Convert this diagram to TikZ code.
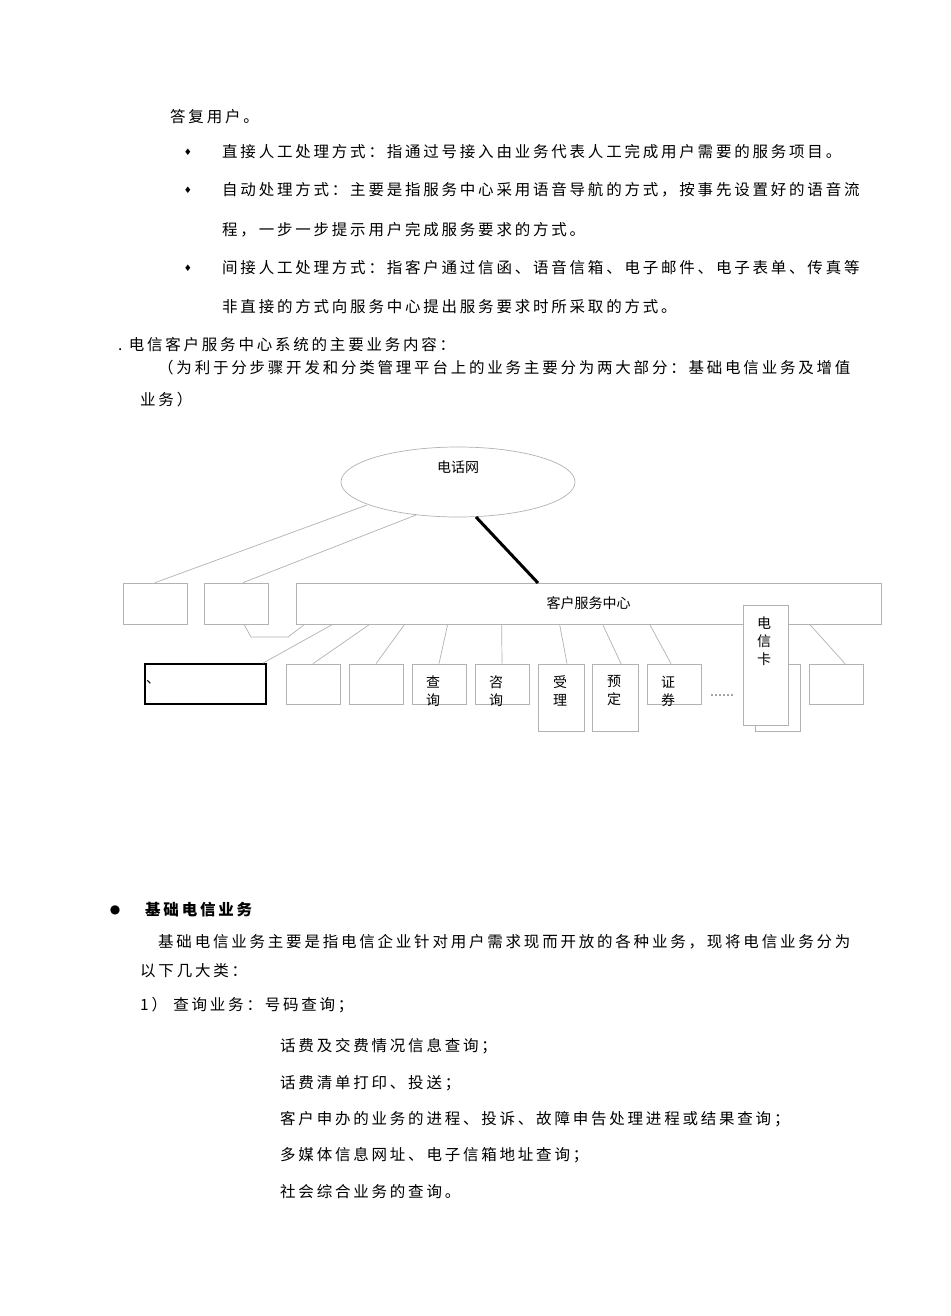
\documentclass[tikz,border=0pt]{standalone}
\usepackage{fontspec}
\usetikzlibrary{shapes.geometric}
\setmainfont{Liberation Serif}
\newfontfamily\cjk[LetterSpace=18]{Noto Sans CJK SC}
\newfontfamily\cjkd{Noto Sans CJK SC}
\newfontfamily\sym{DejaVu Sans}
\begin{document}
\begin{tikzpicture}[x=1pt,y=-1pt,
  txt/.style={anchor=west,inner sep=0pt,font=\fontsize{15.5}{18}\selectfont\cjk},
  gl/.style={draw=black!30,line width=0.7pt},
  bx/.style={draw=black!30,line width=0.7pt,fill=white,inner sep=0pt,font=\fontsize{14}{16}\selectfont\cjkd},
  bul/.style={anchor=center,inner sep=0pt,font=\fontsize{9}{10}\selectfont\sym}]
\useasboundingbox (0,0) rectangle (950,1316);
\fill[white] (0,0) rectangle (950,1316);
% top text
\node[txt] (t0) at (170,117) {答复用户。};
\node[bul] (b1) at (188,152) {♦};
\node[txt] (t1) at (222,152) {直接人工处理方式：指通过号接入由业务代表人工完成用户需要的服务项目。};
\node[bul] (b2) at (188,190) {♦};
\node[txt] (t2) at (222,190) {自动处理方式：主要是指服务中心采用语音导航的方式，按事先设置好的语音流};
\node[txt] (t3) at (222,230) {程，一步一步提示用户完成服务要求的方式。};
\node[bul] (b3) at (188,268) {♦};
\node[txt] (t4) at (222,268) {间接人工处理方式：指客户通过信函、语音信箱、电子邮件、电子表单、传真等};
\node[txt] (t5) at (222,307) {非直接的方式向服务中心提出服务要求时所采取的方式。};
\node[txt] (t6) at (118,345) {.\ 电信客户服务中心系统的主要业务内容：};
\node[txt] (t7) at (158,368) {（为利于分步骤开发和分类管理平台上的业务主要分为两大部分：基础电信业务及增值};
\node[txt] (t8) at (140,400) {业务）};
% diagram
\node[draw=black!30,line width=0.7pt,ellipse,minimum width=234pt,minimum height=70pt,inner sep=0pt] (net) at (458,482) {};
\node[inner sep=0pt,font=\fontsize{14}{16}\selectfont\cjkd] (netl) at (458,467) {电话网};
\node[bx,minimum width=64pt,minimum height=41pt] (A) at (155,603.5) {};
\node[bx,minimum width=64pt,minimum height=41pt] (B) at (236,603.5) {};
\node[bx,minimum width=585pt,minimum height=41pt] (C) at (588.5,603.5) {客户服务中心};
\coordinate (e1) at (367,505); \coordinate (e2) at (416,515);
\draw[gl] (e1) -- (A.north); \draw[gl] (e2) -- ([xshift=7pt]B.north);
\coordinate (e3) at (476,517); \coordinate (c3) at (538,583);
\draw[line width=3pt] (e3) -- (c3);
% bottom row
\node[draw=black,line width=1.5pt,minimum width=121pt,minimum height=40pt,inner sep=0pt] (D1) at (205.5,684) {};
\node[inner sep=0pt,font=\fontsize{14}{16}\selectfont\cjkd] (d1l) at (153,682) {、};
\node[bx,minimum width=54pt,minimum height=40pt] (D2) at (313,684) {};
\node[bx,minimum width=54pt,minimum height=40pt] (D3) at (376,684) {};
\node[bx,minimum width=54pt,minimum height=40pt,align=center] (D4) at (439,684) {};
\node[inner sep=0pt,align=center,font=\fontsize{14}{18}\selectfont\cjkd] at (433,691) {查\\询};
\node[bx,minimum width=54pt,minimum height=40pt] (D5) at (502,684) {};
\node[inner sep=0pt,align=center,font=\fontsize{14}{18}\selectfont\cjkd] at (496,691) {咨\\询};
\node[bx,minimum width=46pt,minimum height=67pt] (D6) at (561,697.5) {};
\node[inner sep=0pt,align=center,font=\fontsize{14}{18}\selectfont\cjkd] at (560,691) {受\\理};
\node[bx,minimum width=46pt,minimum height=67pt] (D7) at (615,697.5) {};
\node[inner sep=0pt,align=center,font=\fontsize{14}{18}\selectfont\cjkd] at (614,691) {预\\定};
\node[bx,minimum width=54pt,minimum height=40pt] (D8) at (674,684) {};
\node[inner sep=0pt,align=center,font=\fontsize{14}{18}\selectfont\cjkd] at (668,691) {证\\券};
\node[inner sep=0pt,font=\fontsize{12}{14}\selectfont] (dots) at (722,697) {\textperiodcentered\textperiodcentered\textperiodcentered\textperiodcentered\textperiodcentered\textperiodcentered};
\node[bx,minimum width=45pt,minimum height=67pt] (D9b) at (777.5,697.5) {};
\node[bx,minimum width=45pt,minimum height=120pt] (D9) at (765.5,665) {};
\node[inner sep=0pt,align=center,font=\fontsize{14}{18}\selectfont\cjkd] at (764,641) {电\\信\\卡};
\node[bx,minimum width=54pt,minimum height=40pt] (D10) at (836,684) {};
% connectors
\coordinate (b1s) at (251,637); \coordinate (b2s) at (288,637);
\draw[gl] ([xshift=8pt]B.south) -- (b1s) -- (b2s) -- ([xshift=9pt]C.south west);
\draw[gl] ([xshift=37pt]C.south west) -- ([xshift=-4pt]D1.north east);
\draw[gl] ([xshift=74pt]C.south west) -- (D2.north);
\draw[gl] ([xshift=109pt]C.south west) -- (D3.north);
\draw[gl] ([xshift=152pt]C.south west) -- (D4.north);
\draw[gl] ([xshift=206pt]C.south west) -- (D5.north);
\draw[gl] ([xshift=264pt]C.south west) -- ([xshift=6pt]D6.north);
\draw[gl] ([xshift=307pt]C.south west) -- ([xshift=6pt]D7.north);
\draw[gl] ([xshift=354pt]C.south west) -- ([xshift=-3pt]D8.north);
\draw[gl] ([xshift=514pt]C.south west) -- ([xshift=9pt]D10.north);
% bottom text
\node[anchor=center,inner sep=0pt,font=\fontsize{12}{14}\selectfont\sym] (bb) at (115,910) {●};
\node[txt,font=\fontsize{15.5}{18}\selectfont\cjk\bfseries] (h1) at (145,910) {基础电信业务};
\node[txt] (p1) at (158,942) {基础电信业务主要是指电信企业针对用户需求现而开放的各种业务，现将电信业务分为};
\node[txt] (p2) at (140,971) {以下几大类：};
\node[txt] (p3) at (140,1005) {1）\ 查询业务：号码查询；};
\node[txt] (p4) at (280,1046) {话费及交费情况信息查询；};
\node[txt] (p5) at (280,1083) {话费清单打印、投送；};
\node[txt] (p6) at (280,1119) {客户申办的业务的进程、投诉、故障申告处理进程或结果查询；};
\node[txt] (p7) at (280,1155) {多媒体信息网址、电子信箱地址查询；};
\node[txt] (p8) at (280,1192) {社会综合业务的查询。};
\end{tikzpicture}
\end{document}
